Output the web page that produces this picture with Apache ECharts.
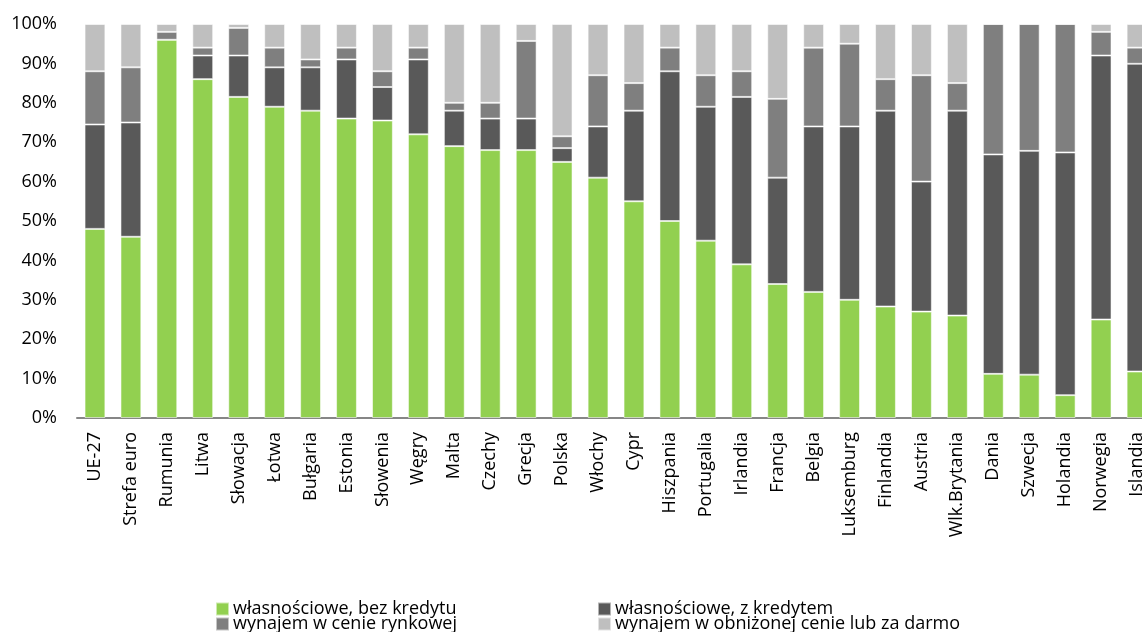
<!DOCTYPE html>
<html>
<head>
<meta charset="utf-8">
<script src="https://cdn.jsdelivr.net/npm/echarts@6/dist/echarts.min.js"></script>
<style>
  html, body { margin: 0; padding: 0; background: #fff; }
  #chart { width: 1142px; height: 632px; }
</style>
</head>
<body>
<div id="chart"></div>
<script>
// Struktura własności mieszkań (% gospodarstw domowych)
const categories = ['UE-27', 'Strefa euro', 'Rumunia', 'Litwa', 'Słowacja', 'Łotwa', 'Bułgaria', 'Estonia',
  'Słowenia', 'Węgry', 'Malta', 'Czechy', 'Grecja', 'Polska', 'Włochy', 'Cypr', 'Hiszpania', 'Portugalia',
  'Irlandia', 'Francja', 'Belgia', 'Luksemburg', 'Finlandia', 'Austria', 'Wlk.Brytania', 'Dania', 'Szwecja',
  'Holandia', 'Norwegia', 'Islandia'];

const seriesNames = ['własnościowe, bez kredytu', 'własnościowe, z kredytem',
  'wynajem w cenie rynkowej', 'wynajem w obniżonej cenie lub za darmo'];

const ownedNoLoan = [48, 46, 96, 86, 81.5, 79, 78, 76, 75.5, 72, 69, 68, 68, 65, 61, 55, 50, 45,
  39, 34, 32, 30, 28.3, 27, 26, 11.2, 11, 5.8, 25, 11.8];
const ownedWithLoan = [26.5, 29, 0, 6, 10.5, 10, 11, 15, 8.5, 19, 9, 8, 8, 3.5, 13, 23, 38, 34,
  42.5, 27, 42, 44, 49.7, 33, 52, 55.7, 56.8, 61.6, 67, 78.1];
const rentMarket = [13.5, 14, 2, 2, 7, 5, 2, 3, 4, 3, 2, 4, 19.7, 3, 13, 7, 6, 8,
  6.5, 20, 20, 21, 8, 27, 7, 33.1, 32.2, 32.6, 6, 4.1];
const rentReduced = [12, 11, 2, 6, 1, 6, 9, 6, 12, 6, 20, 20, 4.3, 28.5, 13, 15, 6, 13,
  12, 19, 6, 5, 14, 13, 15, 0, 0, 0, 2, 6];

const yTicks = { min: 0, max: 100, step: 10 };

const colors = ['#92D050', '#595959', '#7F7F7F', '#BFBFBF'];
const seriesData = [ownedNoLoan, ownedWithLoan, rentMarket, rentReduced];

const font = 'Open Sans';
const chart = echarts.init(document.getElementById('chart'), null, { renderer: 'canvas' });

function legendAt(name, left, top) {
  return {
    data: [name],
    left: left,
    top: top,
    padding: 0,
    itemWidth: 13,
    itemHeight: 13,
    itemGap: 0,
    icon: 'rect',
    selectedMode: false,
    textStyle: { fontFamily: font, fontSize: 18, color: '#000', lineHeight: 22, padding: [0, 0, 0, -1] }
  };
}

chart.setOption({
  animation: false,
  color: colors,
  // the plot area runs a little past the right edge of the canvas
  grid: { left: 77, width: 1078, top: 24, bottom: 214, containLabel: false, outerBoundsMode: 'none' },
  legend: [
    legendAt(seriesNames[0], 215, 598),
    legendAt(seriesNames[1], 597, 598),
    legendAt(seriesNames[2], 215, 613),
    legendAt(seriesNames[3], 597, 613)
  ],
  xAxis: {
    type: 'category',
    data: categories,
    axisLine: { show: true, lineStyle: { color: '#868686', width: 2 } },
    axisTick: { show: false },
    axisLabel: {
      rotate: 90,
      interval: 0,
      margin: 14,
      fontFamily: font,
      fontSize: 18,
      color: '#000'
    }
  },
  yAxis: {
    type: 'value',
    min: yTicks.min,
    max: yTicks.max,
    interval: yTicks.step,
    axisLine: { show: false },
    axisTick: { show: false },
    splitLine: { show: false },
    axisLabel: {
      formatter: '{value}%',
      margin: 20,
      fontFamily: font,
      fontSize: 18,
      color: '#000'
    }
  },
  series: seriesNames.map((name, i) => ({
    name: name,
    type: 'bar',
    stack: 'total',
    barWidth: '58%',
    data: seriesData[i],
    itemStyle: {
      color: colors[i],
      borderColor: 'rgba(255,255,255,0.55)',
      borderWidth: 1
    }
  }))
});
</script>
</body>
</html>
